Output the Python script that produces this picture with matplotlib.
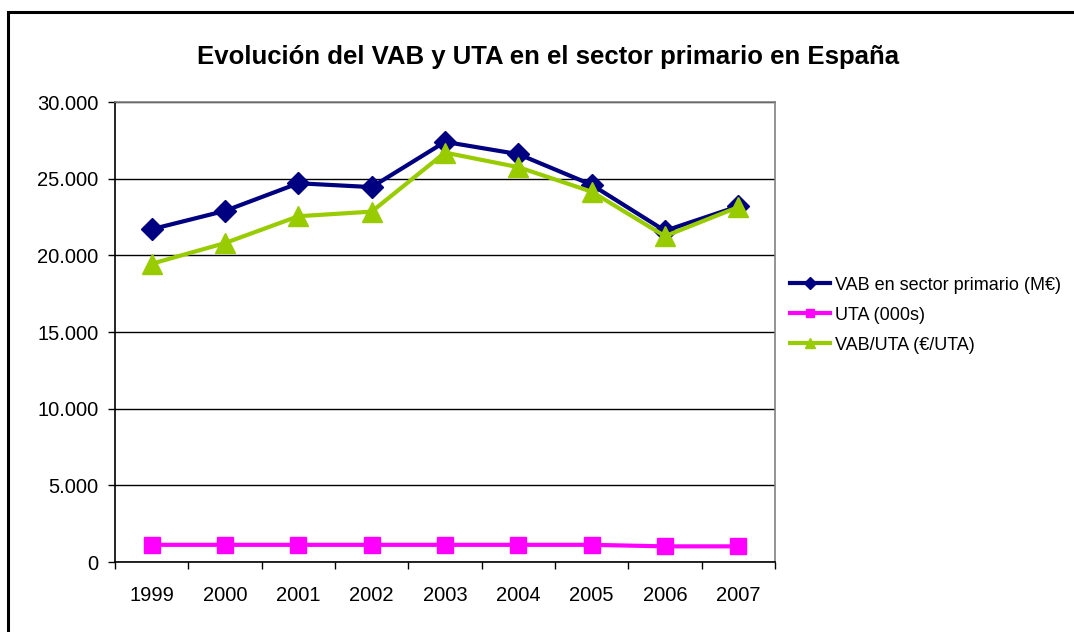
import matplotlib
matplotlib.use("Agg")
import matplotlib.pyplot as plt
from matplotlib.ticker import FuncFormatter, FixedLocator
from matplotlib.patches import Rectangle

years = ["1999", "2000", "2001", "2002", "2003", "2004", "2005", "2006", "2007"]
vab = [21700, 22900, 24700, 24450, 27400, 26600, 24600, 21600, 23200]
uta = [1120, 1120, 1120, 1120, 1120, 1120, 1120, 1020, 1020]
vab_uta = [19450, 20800, 22550, 22850, 26700, 25750, 24150, 21250, 23150]
labels = ["VAB en sector primario (M€)", "UTA (000s)", "VAB/UTA (€/UTA)"]
title = "Evolución del VAB y UTA en el sector primario en España"

plt.rcParams['font.family'] = ['Liberation Sans', 'DejaVu Sans']

W, H = 1074, 632
fig = plt.figure(figsize=(W / 100, H / 100), dpi=100)
fig.patch.set_facecolor("white")

# outer chart border (cropped at right/bottom)
fig.patches.append(Rectangle((8 / W, -0.05), 1.1, 1 - 12 / H + 0.05,
                             transform=fig.transFigure, fill=False,
                             edgecolor="black", linewidth=2.2))

ax = fig.add_axes([115 / W, 1 - 562 / H, (775 - 115) / W, (562 - 102) / H])
x = list(range(len(years)))

ax.plot(x, vab, color="#000080", linewidth=3, marker="D", markersize=11,
        label=labels[0], zorder=3)
ax.plot(x, uta, color="#FF00FF", linewidth=3, marker="s", markersize=11,
        label=labels[1], zorder=3)
ax.plot(x, vab_uta, color="#99CC00", linewidth=3, marker="^", markersize=14,
        label=labels[2], zorder=3)

ax.set_xlim(-0.5, len(years) - 0.5)
ax.set_ylim(0, 30000)
ax.set_yticks(range(0, 30001, 5000))
ax.yaxis.set_major_formatter(FuncFormatter(lambda v, p: f"{int(v):,}".replace(",", ".")))
ax.grid(axis="y", color="black", linewidth=1)
ax.set_axisbelow(True)

ax.set_xticks(x)
ax.set_xticklabels(years)
ax.xaxis.set_minor_locator(FixedLocator([i - 0.5 for i in range(len(years) + 1)]))
ax.tick_params(axis="x", which="major", length=0, pad=17, labelsize=14.5)
ax.tick_params(axis="x", which="minor", length=5, width=1, direction="out")
ax.tick_params(axis="y", which="major", length=5, width=1, direction="out",
               pad=7, labelsize=14.5)

for s in ["left", "bottom"]:
    ax.spines[s].set_color("black")
    ax.spines[s].set_linewidth(1.2)
for s in ["top", "right"]:
    ax.spines[s].set_color("#808080")
    ax.spines[s].set_linewidth(1.2)

fig.text(548 / W, 1 - 57 / H, title, ha="center", va="center",
         fontsize=18.5, fontweight="bold")

leg = fig.legend(loc="center left", bbox_to_anchor=(790 / W, 1 - 315 / H),
                 frameon=False, fontsize=13, markerscale=0.55,
                 handlelength=2.2, handletextpad=0.3, labelspacing=0.72,
                 borderaxespad=0, borderpad=0)

fig.savefig("out.png", dpi=100, facecolor="white")
